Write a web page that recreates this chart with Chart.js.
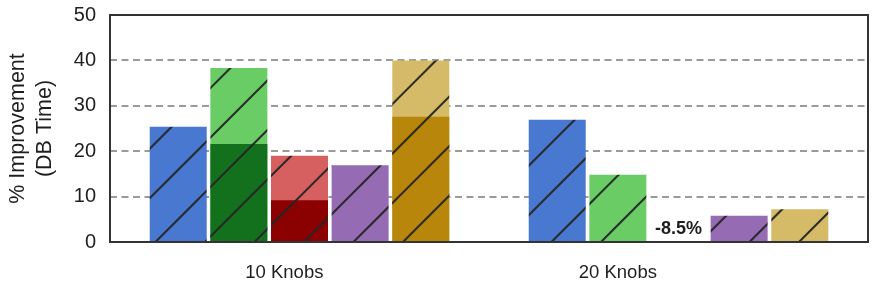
<!DOCTYPE html>
<html>
<head>
<meta charset="utf-8">
<script src="https://cdn.jsdelivr.net/npm/chart.js@4/dist/chart.umd.min.js"></script>
<style>
  html, body { margin: 0; padding: 0; background: #ffffff; }
  #wrap { width: 875px; height: 285px; }
</style>
</head>
<body>
<div id="wrap"><canvas id="c" width="875" height="285"></canvas></div>
<script>
// ---- data ----
const categories = ['10 Knobs', '20 Knobs'];
const labelPositions = [-0.04, 0.84];          // where the category labels sit (in category units)
const yTicks = [0, 10, 20, 30, 40, 50];

const blueVals       = [25.4, 26.9];
const greenDarkVals  = [21.6, null];
const greenLightVals = [38.3, 14.8];
const redDarkVals    = [9.2, null];
const redLightVals   = [19.0, -8.5];
const purpleVals     = [16.9, 5.8];
const goldDarkVals   = [27.6, null];
const goldLightVals  = [40.0, 7.2];

// ---- hatch patterns ----
function hatch(color) {
  const s = 99;
  const cv = document.createElement('canvas');
  cv.width = s; cv.height = s;
  const g = cv.getContext('2d');
  g.fillStyle = color;
  g.fillRect(0, 0, s, s);
  g.strokeStyle = 'rgba(38,38,38,0.95)';
  g.lineWidth = 2.1;
  [-48.1, 1.4, 50.9, 100.4, 149.9, 199.4].forEach(c => {
    g.beginPath();
    g.moveTo(c + 20, -20);
    g.lineTo(c - 130, 130);
    g.stroke();
  });
  return document.getElementById('c').getContext('2d').createPattern(cv, 'repeat');
}

const ds = (label, data, stack, color) => ({
  label, data, stack,
  backgroundColor: hatch(color),
  borderWidth: 0,
  categoryPercentage: 0.8,
  barPercentage: 0.94
});

const datasets = [
  ds('Blue',        blueVals,       's1', '#4878cf'),
  ds('Green dark',  greenDarkVals,  's2', '#13711e'),
  ds('Green',       greenLightVals, 's2', '#6acc65'),
  ds('Red dark',    redDarkVals,    's3', '#8b0000'),
  ds('Red',         redLightVals,   's3', '#d65f5f'),
  ds('Purple',      purpleVals,     's4', '#956cb4'),
  ds('Gold dark',   goldDarkVals,   's5', '#b8860b'),
  ds('Gold',        goldLightVals,  's5', '#d5bb67')
];

const FONT = "'Liberation Sans', Arial, Helvetica, sans-serif";

const framePlugin = {
  id: 'frame',
  afterDraw(chart) {
    const { ctx, chartArea: a } = chart;
    ctx.save();
    ctx.strokeStyle = '#333333';
    ctx.lineWidth = 2;
    ctx.strokeRect(a.left, a.top, a.right - a.left, a.bottom - a.top);
    ctx.restore();
  }
};

const clippedLabelPlugin = {
  id: 'clippedLabels',
  afterDraw(chart) {
    const { ctx } = chart;
    const y = chart.scales.y;
    ctx.save();
    ctx.font = "bold 18px " + FONT;
    ctx.textAlign = 'center';
    ctx.textBaseline = 'middle';
    chart.data.datasets.forEach((d, di) => {
      const meta = chart.getDatasetMeta(di);
      d.data.forEach((v, i) => {
        if (v !== null && v < y.min) {
          const bx = meta.data[i].x;
          const by = y.getPixelForValue(0) - 13;
          const t = v + '%';
          ctx.lineWidth = 3;
          ctx.strokeStyle = '#ffffff';
          ctx.strokeText(t, bx, by);
          ctx.fillStyle = '#1e1e1e';
          ctx.fillText(t, bx, by);
        }
      });
    });
    ctx.restore();
  }
};

new Chart(document.getElementById('c'), {
  type: 'bar',
  data: { labels: categories, datasets },
  options: {
    responsive: false,
    animation: false,
    devicePixelRatio: 1,
    layout: { padding: { left: 0, right: 7, top: 15, bottom: 0 } },
    plugins: { legend: { display: false }, tooltip: { enabled: false } },
    scales: {
      x: {
        stacked: true,
        offset: true,
        grid: { display: false },
        border: { display: false },
        ticks: { display: false },
        afterFit: s => { s.height = 0; s.paddingLeft = 0; s.paddingRight = 0; }
      },
      xl: {
        type: 'linear',
        position: 'bottom',
        min: -0.5,
        max: 1.5,
        offset: false,
        grid: { display: false },
        border: { display: false },
        afterBuildTicks: s => { s.ticks = labelPositions.map(v => ({ value: v })); },
        ticks: {
          autoSkip: false,
          maxRotation: 0,
          padding: 12,
          color: '#1e1e1e',
          font: { family: FONT, size: 18.5 },
          callback: (v, i) => categories[i]
        },
        afterFit: s => { s.height = 43; s.paddingLeft = 0; s.paddingRight = 0; }
      },
      y: {
        stacked: false,
        min: 0,
        max: 50,
        afterBuildTicks: s => { s.ticks = yTicks.map(v => ({ value: v })); },
        grid: {
          drawTicks: false,
          lineWidth: 2,
          color: c => (c.tick && (c.tick.value === 0 || c.tick.value === 50)) ? 'rgba(0,0,0,0)' : '#9a9a9a'
        },
        border: { display: false, dash: [7, 4.5] },
        ticks: {
          padding: 14,
          color: '#1e1e1e',
          font: { family: FONT, size: 20 }
        },
        title: {
          display: true,
          text: ['% Improvement', '(DB Time)'],
          color: '#1e1e1e',
          font: { family: FONT, size: 21.5, lineHeight: 1.27 },
          padding: { top: 4, bottom: 0 }
        },
        afterFit: s => { s.width = 110; s.paddingTop = 0; s.paddingBottom = 0; }
      }
    }
  },
  plugins: [framePlugin, clippedLabelPlugin]
});
</script>
</body>
</html>
